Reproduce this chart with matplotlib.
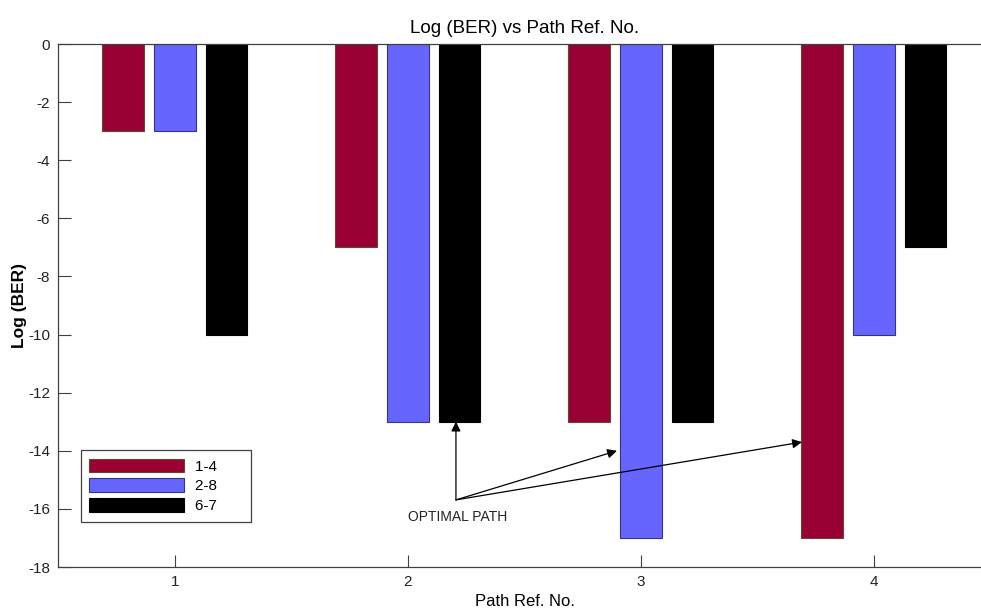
import matplotlib
matplotlib.use("Agg")
import matplotlib.pyplot as plt
import numpy as np

plt.rcParams['font.family'] = ['Liberation Sans', 'DejaVu Sans']
plt.rcParams['axes.unicode_minus'] = False

paths = [1, 2, 3, 4]
series_names = ["1-4", "2-8", "6-7"]
ber_1_4 = [-3, -7, -13, -17]
ber_2_8 = [-3, -13, -17, -10]
ber_6_7 = [-10, -13, -13, -7]
y_ticks = list(range(0, -19, -2))

colors = ["#990033", "#6666ff", "#000000"]
edges = ["#5c4a2a", "#333388", "#000000"]

fig = plt.figure(figsize=(9.81, 6.12), dpi=100)
ax = fig.add_axes([0.0596, 0.0735, 0.950, 0.8546])

# grouped bars, same spacing rule as the MATLAB bar() default
n = 3
spacing = min(0.8, n / (n + 1.5)) / n
width = 0.8 * spacing
x = np.array(paths, dtype=float)
for i, (vals, name) in enumerate(zip([ber_1_4, ber_2_8, ber_6_7], series_names)):
    ax.bar(x + (i - 1) * spacing, vals, width, color=colors[i],
           edgecolor=edges[i], linewidth=0.8, label=name + "      ")

ax.set_xlim(0.5, 4.5)
ax.set_ylim(-18, 0)
ax.set_xticks(paths)
ax.set_yticks(y_ticks)
ax.tick_params(direction="in", length=9, width=0.8, color="#404040",
               labelsize=11, pad=6, labelcolor="#222222")
for s in ax.spines.values():
    s.set_color("#404040")
    s.set_linewidth(0.9)

ax.set_title("Log (BER) vs Path Ref. No.", fontsize=13.5, pad=8)
ax.set_xlabel("Path Ref. No.", fontsize=12, labelpad=3)
ax.set_ylabel("Log (BER)", fontsize=12.5, fontweight="bold")
ax.yaxis.set_label_coords(-0.034, 0.5)

# optimal path annotation with three arrows
origin = (2.206, -15.69)
targets = [(2.206, -13.0), (2.897, -14.0), (3.691, -13.7)]
for tx, ty in targets:
    ax.annotate("", xy=(tx, ty), xytext=origin,
                arrowprops=dict(arrowstyle="-|>", color="black", lw=0.9,
                                mutation_scale=14, shrinkA=0, shrinkB=0))
ax.text(2.0, -16.28, "OPTIMAL PATH", fontsize=10, va="center", ha="left",
        color="#222222")

leg = ax.legend(loc="lower left", bbox_to_anchor=(0.024, 0.087),
                fontsize=11, handlelength=6.2, handleheight=1.0,
                handletextpad=0.7, labelspacing=0.3, borderpad=0.55,
                fancybox=False, framealpha=1, edgecolor="#404040",
                borderaxespad=0)
leg.get_frame().set_linewidth(0.9)

fig.savefig("out.png", dpi=100)
